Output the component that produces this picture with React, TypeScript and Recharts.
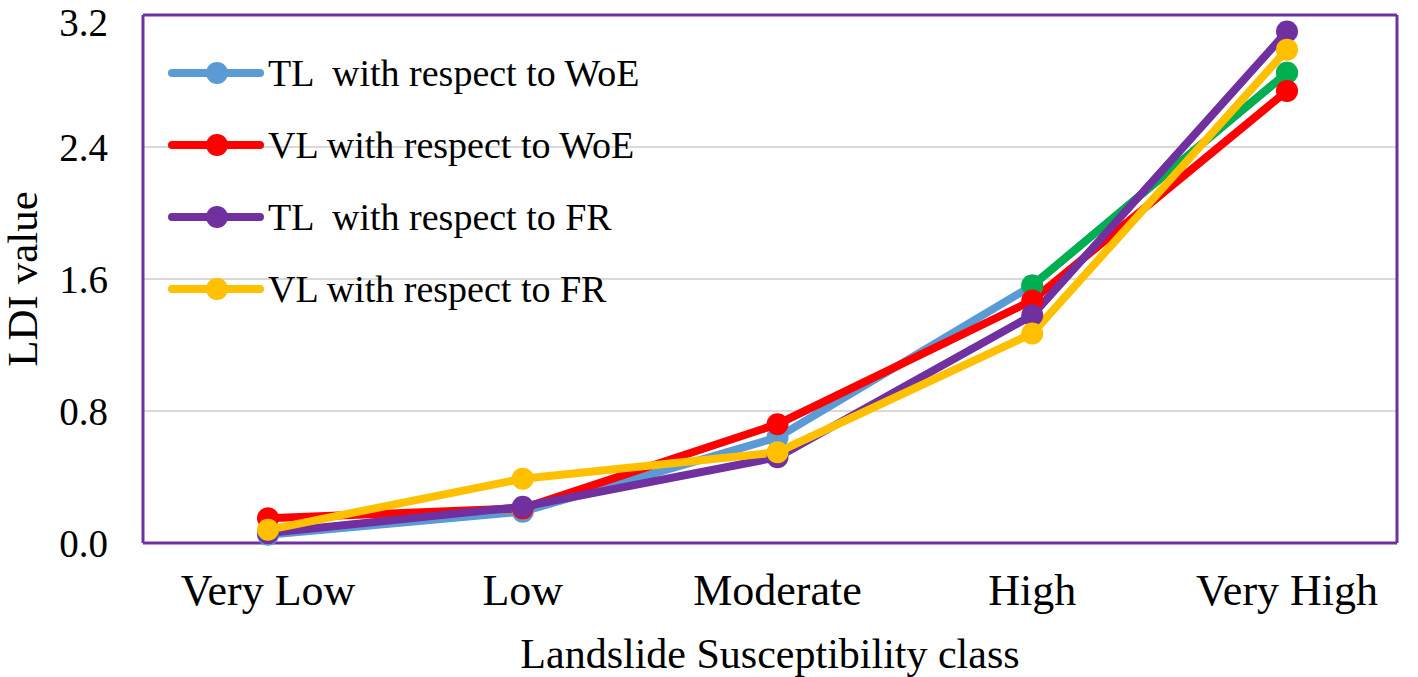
import React from "react";
import {
  LineChart,
  Line,
  XAxis,
  YAxis,
  CartesianGrid,
  Legend,
} from "recharts";

const categories = ["Very Low", "Low", "Moderate", "High", "Very High"];
const tlWoe = [0.05, 0.19, 0.64, 1.56, 2.85];
// last segment of the TL/WoE line is drawn green in the original
const tlWoeTail = [null, null, null, 1.56, 2.85];
const vlWoe = [0.15, 0.21, 0.72, 1.47, 2.74];
const tlFr = [0.06, 0.22, 0.52, 1.38, 3.1];
const vlFr = [0.08, 0.39, 0.55, 1.27, 2.99];
const yTicks = [0, 0.8, 1.6, 2.4, 3.2];
const legendOrder = [
  "TL  with respect to WoE",
  "VL with respect to WoE",
  "TL  with respect to FR",
  "VL with respect to FR",
];

const FONT = "'Liberation Serif', 'Times New Roman', serif";
const FRAME = "#7030A0";

const data = categories.map((cat, i) => ({
  cat,
  tlWoe: tlWoe[i],
  tlWoeTail: tlWoeTail[i],
  vlWoe: vlWoe[i],
  tlFr: tlFr[i],
  vlFr: vlFr[i],
}));

function LegendBox(props: any) {
  const items = (props.payload || [])
    .filter((p: any) => p.type !== "none")
    .sort(
      (a: any, b: any) =>
        legendOrder.indexOf(a.value) - legendOrder.indexOf(b.value)
    );
  return (
    <div style={{ fontFamily: FONT }}>
      {items.map((p: any) => (
        <div
          key={p.value}
          style={{ display: "flex", alignItems: "center", height: 72 }}
        >
          <svg width={100} height={30}>
            <line
              x1={7}
              y1={15}
              x2={95}
              y2={15}
              stroke={p.color}
              strokeWidth={8}
              strokeLinecap="round"
            />
            <circle cx={52} cy={15} r={11} fill={p.color} />
          </svg>
          <span
            style={{
              fontSize: 38,
              color: "#000",
              marginLeft: 3,
              whiteSpace: "pre",
            }}
          >
            {p.value}
          </span>
        </div>
      ))}
    </div>
  );
}

function dot(color: string) {
  return { r: 11, fill: color, stroke: color, strokeWidth: 0 };
}

export default function App() {
  return (
    <div
      style={{
        position: "absolute",
        left: 0,
        top: 0,
        background: "#fff",
        fontFamily: FONT,
      }}
    >
      <LineChart
        width={1418}
        height={677}
        data={data}
        margin={{ top: 14, right: 20, left: 0, bottom: 0 }}
      >
        <CartesianGrid vertical={false} stroke="#d9d9d9" strokeWidth={2} />
        <XAxis
          dataKey="cat"
          height={134}
          padding={{ left: 125, right: 110 }}
          tickLine={false}
          tickSize={0}
          tickMargin={31}
          axisLine={{ stroke: FRAME, strokeWidth: 3 }}
          tick={{ fontSize: 44, fill: "#000", fontFamily: FONT }}
          label={{
            value: "Landslide Susceptibility class",
            position: "insideBottom",
            offset: 9,
            style: { fontSize: 42, fill: "#000", fontFamily: FONT },
          }}
        />
        <XAxis
          xAxisId="top"
          dataKey="cat"
          orientation="top"
          height={1}
          tick={false}
          tickLine={false}
          axisLine={{ stroke: FRAME, strokeWidth: 3 }}
        />
        <YAxis
          domain={[0, 3.2]}
          ticks={yTicks}
          width={143}
          tickLine={false}
          tickSize={0}
          tickMargin={35}
          tickFormatter={(v: number) => v.toFixed(1)}
          axisLine={{ stroke: FRAME, strokeWidth: 3 }}
          tick={{ fontSize: 39, fill: "#000", fontFamily: FONT }}
          label={{
            value: "LDI value",
            angle: -90,
            position: "insideLeft",
            offset: 22,
            style: {
              fontSize: 43,
              fill: "#000",
              fontFamily: FONT,
              textAnchor: "middle",
            },
          }}
        />
        <YAxis
          yAxisId="right"
          orientation="right"
          domain={[0, 3.2]}
          width={1}
          tick={false}
          tickLine={false}
          axisLine={{ stroke: FRAME, strokeWidth: 3 }}
        />
        <Legend
          layout="horizontal"
          verticalAlign="middle"
          align="center"
          content={<LegendBox />}
          wrapperStyle={{ left: 165, top: 37, width: "auto", height: "auto" }}
        />
        <Line
          dataKey="tlWoe"
          name="TL  with respect to WoE"
          stroke="#5B9BD5"
          strokeWidth={8}
          dot={dot("#5B9BD5")}
          activeDot={false}
          isAnimationActive={false}
        />
        <Line
          dataKey="tlWoeTail"
          legendType="none"
          stroke="#00B050"
          strokeWidth={8}
          dot={dot("#00B050")}
          activeDot={false}
          isAnimationActive={false}
        />
        <Line
          dataKey="vlWoe"
          name="VL with respect to WoE"
          stroke="#FF0000"
          strokeWidth={8}
          dot={dot("#FF0000")}
          activeDot={false}
          isAnimationActive={false}
        />
        <Line
          dataKey="tlFr"
          name="TL  with respect to FR"
          stroke="#7030A0"
          strokeWidth={8}
          dot={dot("#7030A0")}
          activeDot={false}
          isAnimationActive={false}
        />
        <Line
          dataKey="vlFr"
          name="VL with respect to FR"
          stroke="#FFC000"
          strokeWidth={8}
          dot={dot("#FFC000")}
          activeDot={false}
          isAnimationActive={false}
        />
      </LineChart>
    </div>
  );
}
